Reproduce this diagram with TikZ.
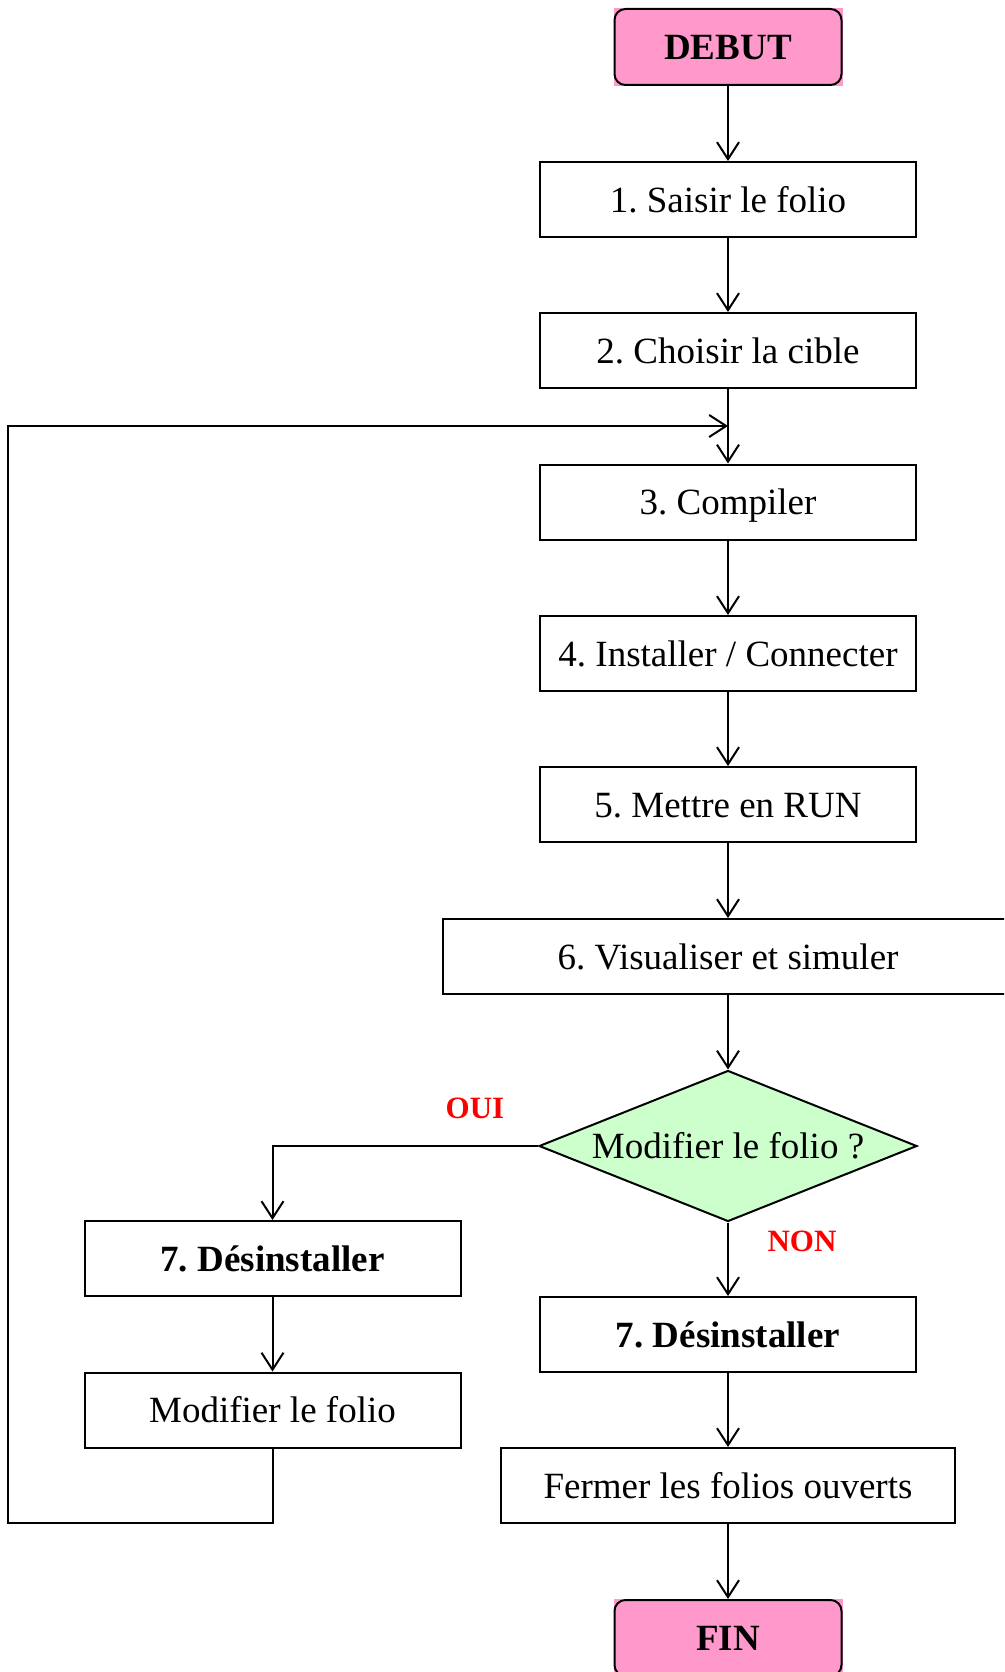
\documentclass[tikz,border=0pt]{standalone}
\usepackage{fontspec}
\setmainfont{Liberation Serif}
\usetikzlibrary{arrows.meta,shapes.geometric,backgrounds}
\definecolor{startpink}{HTML}{FF99CC}
\definecolor{decgreen}{HTML}{CCFFCC}
\definecolor{lblred}{HTML}{FF0000}
\frenchspacing
\begin{document}
\begin{tikzpicture}[x=1pt,y=-1pt,
  every node/.style={font=\fontsize{37}{44}\selectfont\frenchspacing},
  stepbox/.style={draw, line width=2pt, rectangle, inner sep=0pt, minimum height=75pt, minimum width=376pt, text height=25pt, text depth=0pt},
  termbox/.style={draw, line width=2pt, rectangle, rounded corners=11pt, inner sep=0pt, minimum height=76pt, minimum width=227pt, text height=25pt, text depth=0pt, font=\fontsize{37}{44}\selectfont\bfseries},
  decbox/.style={draw, line width=2pt, diamond, aspect=2.5, inner sep=0pt, minimum width=378pt, minimum height=151pt, fill=decgreen, text height=25pt, text depth=0pt},
  lbl/.style={text=lblred, font=\fontsize{31}{36}\selectfont\bfseries},
  conn/.style={line width=2pt, -{Straight Barb[length=17pt,width=22pt,line width=2pt]}},
  wire/.style={line width=2pt}
]
\clip (0,0) rectangle (1004,1672);
\node[termbox] (debut) at (728,47) {DEBUT};
\node[stepbox] (s1) at (728,199.5) {1. Saisir le folio};
\node[stepbox] (s2) at (728,350.5) {2. Choisir la cible};
\node[stepbox] (s3) at (728,502) {3. Compiler};
\node[stepbox] (s4) at (728,653.5) {4. Installer / Connecter};
\node[stepbox] (s5) at (728,804.5) {5. Mettre en RUN};
\node[stepbox, minimum width=570pt] (s6) at (728,956.5) {6. Visualiser et simuler};
\node[decbox] (dec) at (728,1146) {Modifier le folio ?};
\node[stepbox, font=\fontsize{37}{44}\selectfont\bfseries] (d7l) at (272.5,1258.5) {7. Désinstaller};
\node[stepbox] (modl) at (272.5,1410) {Modifier le folio};
\node[stepbox, font=\fontsize{37}{44}\selectfont\bfseries] (d7r) at (728,1334.5) {7. Désinstaller};
\node[stepbox, minimum width=454pt] (ferm) at (728,1485.5) {Fermer les folios ouverts};
\node[termbox] (fin) at (728,1638) {FIN};
\node[lbl] (oui) at (475,1108) {OUI};
\node[lbl] (non) at (802,1241) {NON};
\begin{scope}[on background layer]
  \fill[startpink] (debut.south west) rectangle (debut.north east);
  \fill[startpink] (fin.south west) rectangle (fin.north east);
\end{scope}
\coordinate (merge) at (728,426);
\coordinate (lb) at (272.5,1523);
\coordinate (ll) at (8,1523);
\coordinate (lt) at (8,426);
\draw[conn] (debut) -- (s1);
\draw[conn] (s1) -- (s2);
\draw[conn] (s2) -- (s3);
\draw[conn] (s3) -- (s4);
\draw[conn] (s4) -- (s5);
\draw[conn] (s5) -- (s6);
\draw[conn] (s6) -- (dec);
\draw[conn] (dec.west) -| (d7l.north);
\draw[conn] (dec.south) -- (d7r.north);
\draw[conn] (d7l) -- (modl);
\draw[conn] (d7r) -- (ferm);
\draw[conn] (ferm) -- (fin);
\draw[wire, line join=miter] (modl.south) -- (lb) -- (ll) -- (lt) -- ++(10,0);
\draw[conn] (lt) -- (merge);
\end{tikzpicture}
\end{document}
